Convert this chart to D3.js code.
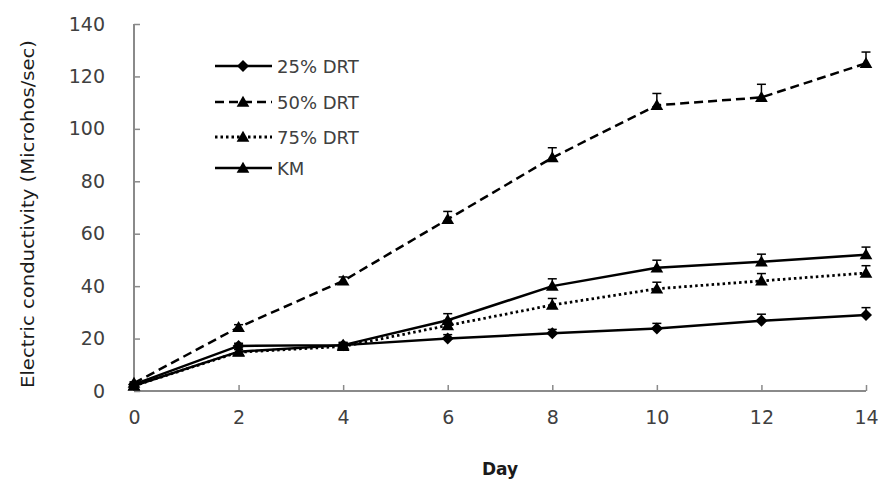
<!DOCTYPE html>
<html><head><meta charset="utf-8">
<script src="https://cdn.jsdelivr.net/npm/d3@7"></script>
<style>
html,body{margin:0;padding:0;background:#fff;}
svg{display:block;}
text{font-family:"DejaVu Sans",sans-serif;}
</style></head>
<body>
<script>
const days = [0, 2, 4, 6, 8, 10, 12, 14];
const drt25 = [2.5, 17.2, 17.5, 20, 22, 23.8, 26.8, 29];
const drt50 = [3, 24.3, 42, 65.5, 89, 109, 112, 125];
const drt75 = [2, 14.8, 17, 25, 32.8, 39, 42, 45];
const km = [2, 15, 17.5, 27, 40, 47, 49.3, 52];
const err25 = [0.5, 1, 1, 1.5, 1.5, 2, 2.5, 2.8];
const err50 = [0.5, 1, 1.5, 3, 3.8, 4.5, 5, 4.3];
const err75 = [0.5, 1, 1, 2, 2.5, 2.5, 2.8, 2.8];
const errKM = [0.5, 1, 1, 2.5, 2.8, 2.9, 2.9, 2.9];
const yTicks = [0, 20, 40, 60, 80, 100, 120, 140];
const xTicks = [0, 2, 4, 6, 8, 10, 12, 14];
const seriesNames = ["25% DRT", "50% DRT", "75% DRT", "KM"];

const W = 882, H = 482;
const svg = d3.select("body").append("svg").attr("width", W).attr("height", H);
const x = d3.scaleLinear().domain([0, 14]).range([134, 866]);
const y = d3.scaleLinear().domain([0, 140]).range([391, 24]);

const series = [
  {name: seriesNames[0], vals: drt25, err: err25, dash: null, dashW: 2.5, marker: "diamond"},
  {name: seriesNames[1], vals: drt50, err: err50, dash: "9,5", dashW: 2.5, marker: "triangle"},
  {name: seriesNames[2], vals: drt75, err: err75, dash: "2.5,3", dashW: 2.8, marker: "triangle"},
  {name: seriesNames[3], vals: km, err: errKM, dash: null, dashW: 2.5, marker: "triangle"}
];

// axes
const gx = svg.append("g").attr("transform", `translate(0,${y(0)})`)
  .call(d3.axisBottom(x).tickValues(xTicks).tickSize(-6).tickPadding(20).tickFormat(d3.format("d")));
const gy = svg.append("g").attr("transform", `translate(${x(0)},0)`)
  .call(d3.axisLeft(y).tickValues(yTicks).tickSize(-6).tickPadding(29).tickFormat(d3.format("d")));
[gx, gy].forEach(g => {
  g.select(".domain").attr("stroke", "#8a8a8a").attr("stroke-width", 2);
  g.selectAll(".tick line").attr("stroke", "#8a8a8a").attr("stroke-width", 1.5);
  g.selectAll(".tick text").attr("fill", "#404040").style("font-size", "19px");
});
gy.select(".domain").attr("d", `M0,${y(0)}V${y(140)}`);
gx.select(".domain").attr("d", `M${x(0)},0H${x(14)}`);

const line = d3.line().x((d, i) => x(days[i])).y(d => y(d));
const triangle = d3.symbol().type(d3.symbolTriangle).size(70);
const diamond = "M0,-6L6,0L0,6L-6,0Z";

series.forEach(s => {
  const g = svg.append("g");
  // error bars (upper only)
  s.vals.forEach((v, i) => {
    const cx = x(days[i]), y0 = y(v), y1 = y(v + s.err[i]);
    g.append("line").attr("x1", cx).attr("x2", cx).attr("y1", y0).attr("y2", y1).attr("stroke", "#000").attr("stroke-width", 1.5);
    g.append("line").attr("x1", cx - 4.5).attr("x2", cx + 4.5).attr("y1", y1).attr("y2", y1).attr("stroke", "#000").attr("stroke-width", 1.5);
  });
  g.append("path").datum(s.vals).attr("d", line).attr("fill", "none").attr("stroke", "#000")
    .attr("stroke-width", s.dashW).attr("stroke-dasharray", s.dash);
  g.selectAll("path.m").data(s.vals).join("path").attr("class", "m")
    .attr("d", s.marker === "diamond" ? diamond : triangle)
    .attr("transform", (d, i) => `translate(${x(days[i])},${y(d) + (s.marker === "triangle" ? 1 : 0)})`)
    .attr("fill", "#000");
});

// legend
const legY = [66, 102, 137, 168];
series.forEach((s, i) => {
  const g = svg.append("g").attr("transform", `translate(0,${legY[i]})`);
  g.append("line").attr("x1", 215).attr("x2", 272).attr("y1", 0).attr("y2", 0)
    .attr("stroke", "#000").attr("stroke-width", s.dashW).attr("stroke-dasharray", s.dash);
  g.append("path").attr("d", s.marker === "diamond" ? diamond : triangle)
    .attr("transform", `translate(243,${s.marker === "triangle" ? 1 : 0})`).attr("fill", "#000");
  g.append("text").attr("x", 277).attr("y", 6.5).text(s.name)
    .attr("fill", "#404040").style("font-size", "18px");
});

// axis titles
svg.append("text").attr("x", 500).attr("y", 475).attr("text-anchor", "middle")
  .style("font-size", "17px").style("font-weight", "bold").attr("fill", "#1a1a1a").text("Day");
svg.append("text").attr("transform", "translate(34,214) rotate(-90)").attr("text-anchor", "middle")
  .style("font-size", "18px").attr("fill", "#1a1a1a")
  .attr("textLength", 348).attr("lengthAdjust", "spacingAndGlyphs")
  .text("Electric conductivity (Microhos/sec)");
</script>
</body></html>
